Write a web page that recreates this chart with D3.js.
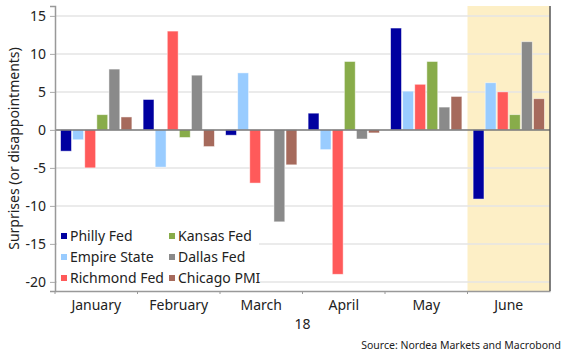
<!DOCTYPE html>
<html>
<head>
<meta charset="utf-8">
<script src="https://cdn.jsdelivr.net/npm/d3@7"></script>
<style>
  html, body { margin: 0; padding: 0; background: #fff; overflow: hidden; }
  svg { display: block; }
  svg text { font-family: "Noto Sans", "Open Sans", sans-serif; fill: #222; }
</style>
</head>
<body>
<div id="chart"></div>
<script>
// data
const months = ["January", "February", "March", "April", "May", "June"];
const series = ["Philly Fed", "Empire State", "Richmond Fed", "Kansas Fed", "Dallas Fed", "Chicago PMI"];
const colors = ["#0000a0", "#99ccff", "#ff5a5a", "#88ac4a", "#8a8a8a", "#a66a5c"];

const phillyFed   = [-2.8, 4.0, -0.7, 2.2, 13.4, -9.1];
const empireState = [-1.3, -4.9, 7.5, -2.6, 5.1, 6.2];
const richmondFed = [-5.0, 13.0, -7.0, -19.0, 6.0, 5.0];
const kansasFed   = [2.0, -1.0, 0, 9.0, 9.0, 2.0];
const dallasFed   = [8.0, 7.2, -12.1, -1.2, 3.0, 11.6];
const chicagoPMI  = [1.7, -2.2, -4.6, -0.4, 4.4, 4.1];

const yTicks = [-20, -15, -10, -5, 0, 5, 10, 15];

const allValues = [phillyFed, empireState, richmondFed, kansasFed, dallasFed, chicagoPMI];

// build a flat table for the bars
let data = [];
months.forEach((m, i) => {
    series.forEach((s, j) => {
        data.push({month: m, series: s, value: allValues[j][i]});
    });
});

const width = 570;
const height = 360;
const margin = {top: 6, right: 20, bottom: 69, left: 55};
const innerWidth = width - margin.left - margin.right;
const innerHeight = height - margin.top - margin.bottom;

const svg = d3.select("#chart").append("svg")
    .attr("width", width)
    .attr("height", height);

const g = svg.append("g")
    .attr("transform", `translate(${margin.left},${margin.top})`);

const xScale = d3.scaleBand()
    .domain(months)
    .range([0, innerWidth]);

const xInner = d3.scaleBand()
    .domain(series)
    .range([5, xScale.bandwidth() - 5])
    .paddingInner(0.1)
    .paddingOuter(0.05);

const yScale = d3.scaleLinear()
    .domain([-21.2, 16.3])
    .range([innerHeight, 0]);

const color = d3.scaleOrdinal().domain(series).range(colors);

// June highlight
g.append("rect")
    .attr("x", xScale("June"))
    .attr("y", 0)
    .attr("width", xScale.bandwidth())
    .attr("height", innerHeight)
    .attr("fill", "#fdefc6");

// grid lines
g.append("g")
    .selectAll("line")
    .data(yTicks.filter(d => d !== 0))
    .enter().append("line")
        .attr("x1", 0)
        .attr("x2", innerWidth)
        .attr("y1", d => yScale(d))
        .attr("y2", d => yScale(d))
        .attr("stroke", "#e4e4e4")
        .attr("stroke-width", 1.5);

// bars
g.append("g")
    .selectAll("rect")
    .data(data)
    .enter().append("rect")
        .attr("x", d => xScale(d.month) + xInner(d.series))
        .attr("y", d => yScale(Math.max(0, d.value)))
        .attr("width", xInner.bandwidth())
        .attr("height", d => Math.abs(yScale(d.value) - yScale(0)))
        .attr("fill", d => color(d.series))
        .attr("stroke", "rgba(255,255,255,0.6)")
        .attr("stroke-width", 0.8);

// zero line
g.append("line")
    .attr("x1", 0)
    .attr("x2", innerWidth)
    .attr("y1", yScale(0))
    .attr("y2", yScale(0))
    .attr("stroke", "#767676")
    .attr("stroke-width", 1.5);

// y axis
const yAxisG = g.append("g")
    .call(d3.axisLeft(yScale).tickValues(yTicks).tickSize(5).tickPadding(4));
yAxisG.select(".domain").attr("stroke", "#999").attr("stroke-width", 1.5);
yAxisG.selectAll(".tick line").attr("stroke", "#aaa");
yAxisG.selectAll("text")
    .attr("font-size", "14px")
    .attr("fill", "#222")
    .text(d => d < 0 ? "-" + Math.abs(d) : d);

// x axis, ticks at the band edges
const xAxisG = g.append("g")
    .attr("transform", `translate(0,${innerHeight})`)
    .call(d3.axisBottom(xScale).tickSize(0).tickPadding(9));
xAxisG.select(".domain").attr("stroke", "#999").attr("stroke-width", 1.5);
xAxisG.selectAll("text")
    .attr("font-size", "14px")
    .attr("fill", "#222");

xAxisG.selectAll(".edge")
    .data(months)
    .enter().append("line")
        .attr("x1", d => xScale(d))
        .attr("x2", d => xScale(d))
        .attr("y1", 0)
        .attr("y2", 3)
        .attr("stroke", "#999");

// right border
g.append("line")
    .attr("x1", innerWidth)
    .attr("x2", innerWidth)
    .attr("y1", 0)
    .attr("y2", innerHeight)
    .attr("stroke", "#555")
    .attr("stroke-width", 1.5);

// "18" under the months
g.append("text")
    .attr("x", innerWidth / 2)
    .attr("y", innerHeight + 38)
    .attr("text-anchor", "middle")
    .attr("font-size", "14px")
    .text("18");

// y title
svg.append("text")
    .attr("transform", `translate(19,${margin.top + innerHeight / 2}) rotate(-90)`)
    .attr("text-anchor", "middle")
    .attr("font-size", "14px")
    .text("Surprises (or disappointments)");

// legend
const legend = g.append("g")
    .attr("transform", `translate(2,${innerHeight - 66})`);

legend.append("rect")
    .attr("width", 202)
    .attr("height", 64)
    .attr("fill", "#fff");

const legendItem = legend.selectAll(".item")
    .data(series)
    .enter().append("g")
        .attr("transform", (d, i) => `translate(${Math.floor(i / 3) * 108},${(i % 3) * 21 + 11})`);

legendItem.append("rect")
    .attr("x", 4)
    .attr("y", -3)
    .attr("width", 6)
    .attr("height", 6)
    .attr("fill", d => color(d));

legendItem.append("text")
    .attr("x", 13)
    .attr("dy", "0.35em")
    .attr("font-size", "14px")
    .text(d => d);

// source
svg.append("text")
    .attr("x", 561)
    .attr("y", 349)
    .attr("text-anchor", "end")
    .attr("font-size", "10.5px")
    .text("Source: Nordea Markets and Macrobond");
</script>
</body>
</html>
